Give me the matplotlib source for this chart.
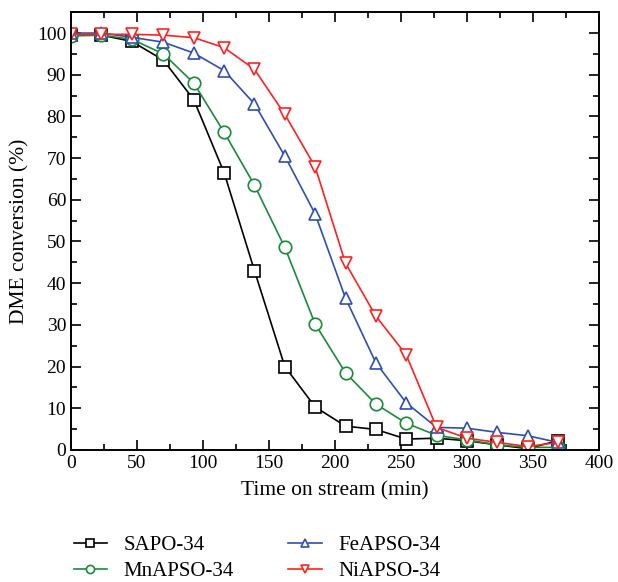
import matplotlib.pyplot as plt
import numpy as np

plt.rcParams['font.family'] = ['Liberation Serif', 'DejaVu Serif']

# time on stream (min)
time = [0, 23, 46, 70, 93, 116, 139, 162, 185, 208, 231, 254, 277, 300, 323, 346, 369]

# DME conversion (%)
sapo = [99.5, 99.5, 98.0, 93.5, 84.0, 66.5, 43.0, 20.0, 10.3, 5.7, 4.9, 2.6, 2.8, 2.2, 1.2, 0.3, 2.2]
mnapso = [99.3, 99.5, 98.5, 95.0, 88.0, 76.2, 63.5, 48.6, 30.2, 18.5, 11.0, 6.4, 3.5, 2.4, 1.2, 0.6, 0.6]
feapso = [100.0, 100.0, 99.0, 97.8, 95.2, 91.0, 83.0, 70.5, 56.6, 36.4, 20.9, 11.3, 5.4, 5.2, 4.2, 3.4, 1.8]
niapso = [99.7, 99.7, 99.7, 99.5, 98.9, 96.5, 91.3, 80.5, 67.9, 44.8, 32.1, 22.8, 5.4, 2.8, 1.8, 0.8, 1.8]

series = [
    ("SAPO-34", sapo, "black", "s"),
    ("MnAPSO-34", mnapso, "#1a8a3a", "o"),
    ("FeAPSO-34", feapso, "#2f4fb0", "^"),
    ("NiAPSO-34", niapso, "#ff2020", "v"),
]

fig = plt.figure(figsize=(6.18, 5.82), dpi=100)
ax = fig.add_axes([0.115, 0.227, 0.854, 0.752])

lines = []
for name, vals, col, mk in series:
    ln, = ax.plot(time, vals, color=col, marker=mk, markersize=9, markerfacecolor="white",
                  markeredgewidth=1.2, linewidth=1.2, label=name)
    lines.append(ln)

ax.set_xlim(0, 400)
ax.set_ylim(0, 105)
ax.set_xticks(np.arange(0, 401, 50))
ax.set_xticks(np.arange(0, 401, 25), minor=True)
ax.set_yticks(np.arange(0, 101, 10))
ax.set_yticks(np.arange(0, 106, 5), minor=True)
ax.tick_params(which="both", direction="in", top=True, right=True, labelsize=14, width=1.2)
ax.tick_params(which="major", length=7)
ax.tick_params(which="minor", length=4)
for sp in ax.spines.values():
    sp.set_linewidth(1.4)

ax.set_xlabel("Time on stream (min)", fontsize=15.5, labelpad=7)
ax.set_ylabel("DME conversion (%)", fontsize=15.5, labelpad=5)

# legend in column order: SAPO, MnAPSO | FeAPSO, NiAPSO
leg = fig.legend(handles=lines, loc="lower left", bbox_to_anchor=(0.099, -0.02), ncol=2,
                 frameon=False, fontsize=15, markerscale=0.65, handlelength=1.6,
                 columnspacing=2.6, labelspacing=0.3, handletextpad=0.8, borderpad=0.1)

fig.savefig("out.png", dpi=100)
